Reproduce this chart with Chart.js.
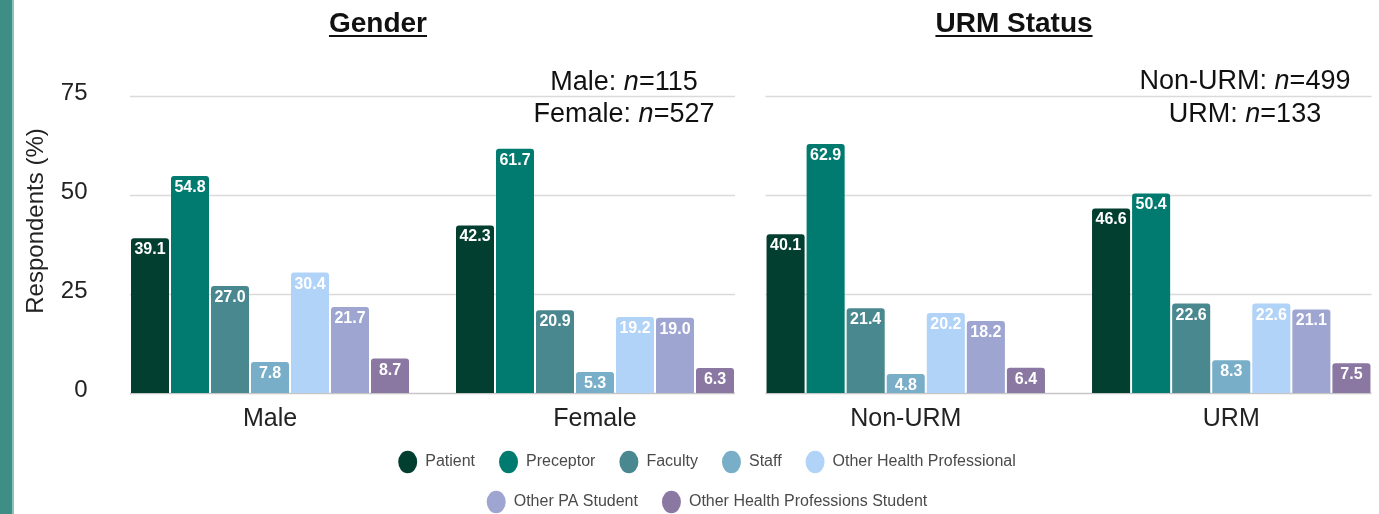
<!DOCTYPE html>
<html>
<head>
<meta charset="utf-8">
<script src="https://cdn.jsdelivr.net/npm/chart.js@4.4.1/dist/chart.umd.min.js"></script>
<style>
  html, body { margin: 0; padding: 0; background: #fff; width: 1379px; height: 514px; overflow: hidden; position: relative; font-family: "Liberation Sans", Arial, sans-serif; }
  .strip { position: absolute; left: 0; top: 0; width: 12px; height: 514px; background: #3f8e85; border-right: 2px solid #8cc3bb; }
  canvas { position: absolute; }
  #gender-chart { left: 0; top: 0; }
  #urm-chart { left: 743px; top: 0; }
  #legend-chart { left: 322px; top: 430px; }
  .title { position: absolute; top: 9px; width: 300px; font-size: 28px; line-height: 28px; font-weight: bold; text-decoration: underline; text-underline-offset: 3px; color: #111; text-align: center; }
  .note { position: absolute; width: 320px; font-size: 27px; line-height: 27px; color: #111; text-align: center; white-space: nowrap; }
  .ytitle { position: absolute; left: -85px; top: 209px; width: 240px; height: 24px; font-size: 24px; line-height: 24px; color: #222; text-align: center; transform: rotate(-90deg); white-space: nowrap; }
</style>
</head>
<body>
<div class="strip"></div>
<canvas id="gender-chart" width="780" height="440"></canvas>
<canvas id="urm-chart" width="660" height="440"></canvas>
<canvas id="legend-chart" width="770" height="84"></canvas>
<div class="title" style="left:228px">Gender</div>
<div class="title" style="left:864px">URM Status</div>
<div class="note" style="left:464px; top:68px">Male: <i>n</i>=115</div>
<div class="note" style="left:464px; top:100px">Female: <i>n</i>=527</div>
<div class="note" style="left:1085px; top:67px">Non-URM: <i>n</i>=499</div>
<div class="note" style="left:1085px; top:100px">URM: <i>n</i>=133</div>
<div class="ytitle">Respondents (%)</div>
<script>
// categories and series
const genderCategories = ["Male", "Female"];
const urmCategories = ["Non-URM", "URM"];
const seriesNames = ["Patient", "Preceptor", "Faculty", "Staff", "Other Health Professional", "Other PA Student", "Other Health Professions Student"];
const seriesColors = ["#023f30", "#017a6f", "#4a8890", "#78aec8", "#b1d3f7", "#9da5d0", "#8a77a2"];

// values per category, in series order
const maleValues = [39.1, 54.8, 27.0, 7.8, 30.4, 21.7, 8.7];
const femaleValues = [42.3, 61.7, 20.9, 5.3, 19.2, 19.0, 6.3];
const nonUrmValues = [40.1, 62.9, 21.4, 4.8, 20.2, 18.2, 6.4];
const urmValues = [46.6, 50.4, 22.6, 8.3, 22.6, 21.1, 7.5];

const yTicks = [0, 25, 50, 75];

Chart.defaults.font.family = '"Liberation Sans", Arial, sans-serif';
Chart.defaults.devicePixelRatio = 1;

const CAT_PCT = 280 / 325;

function buildDatasets(a, b) {
  return seriesNames.map((name, i) => ({
    label: name,
    data: [a[i], b[i]],
    backgroundColor: seriesColors[i],
    borderWidth: 0,
    borderRadius: 3,
    barPercentage: 0.95,
    categoryPercentage: CAT_PCT
  }));
}

// gridlines only span the bar groups, not the whole chart area
const gridPlugin = {
  id: "groupGrid",
  beforeDatasetsDraw(chart) {
    const { ctx, chartArea, scales } = chart;
    const catW = chartArea.width / chart.data.labels.length;
    const inset = catW * (1 - CAT_PCT) / 2;
    ctx.save();
    scales.y.ticks.forEach(t => {
      const y = Math.round(scales.y.getPixelForValue(t.value)) + 0.5;
      ctx.strokeStyle = t.value === 0 ? "#c6c6c6" : "#dadada";
      ctx.lineWidth = 1.5;
      ctx.beginPath();
      ctx.moveTo(chartArea.left + inset, y);
      ctx.lineTo(chartArea.right - inset, y);
      ctx.stroke();
    });
    ctx.restore();
  }
};

// white value labels at the top inside each bar
const valueLabels = {
  id: "valueLabels",
  afterDatasetsDraw(chart) {
    const { ctx } = chart;
    ctx.save();
    ctx.font = 'bold 16px "Liberation Sans", Arial, sans-serif';
    ctx.fillStyle = "#ffffff";
    ctx.textAlign = "center";
    ctx.textBaseline = "alphabetic";
    chart.data.datasets.forEach((ds, i) => {
      chart.getDatasetMeta(i).data.forEach((bar, j) => {
        ctx.fillText(ds.data[j].toFixed(1), bar.x, bar.y + 16);
      });
    });
    ctx.restore();
  }
};

function makeOptions(showY, padRight) {
  return {
    responsive: false,
    animation: false,
    layout: { padding: { top: 96, right: padRight, left: 0, bottom: 0 } },
    plugins: { legend: { display: false }, tooltip: { enabled: false } },
    scales: {
      x: {
        grid: { display: false, drawTicks: false },
        border: { display: false },
        ticks: { font: { size: 25 }, color: "#222", padding: 11 },
        afterFit(scale) { scale.height = 47; }
      },
      y: {
        display: showY,
        min: yTicks[0],
        max: yTicks[yTicks.length - 1],
        grid: { display: false, drawTicks: false },
        border: { display: false },
        ticks: { stepSize: yTicks[1] - yTicks[0], font: { size: 24 }, color: "#222", padding: 20, labelOffset: -3 },
        afterFit(scale) { scale.width = 107.5; }
      }
    }
  };
}

new Chart(document.getElementById("gender-chart"), {
  type: "bar",
  data: { labels: genderCategories, datasets: buildDatasets(maleValues, femaleValues) },
  options: makeOptions(true, 22.5),
  plugins: [gridPlugin, valueLabels]
});

const urmOpts = makeOptions(false, 9);
urmOpts.scales.y.afterFit = undefined;
new Chart(document.getElementById("urm-chart"), {
  type: "bar",
  data: { labels: urmCategories, datasets: buildDatasets(nonUrmValues, urmValues) },
  options: urmOpts,
  plugins: [gridPlugin, valueLabels]
});

// legend shared by both panels
new Chart(document.getElementById("legend-chart"), {
  type: "bar",
  data: {
    labels: [],
    datasets: seriesNames.map((name, i) => ({ label: name, data: [], backgroundColor: seriesColors[i] }))
  },
  options: {
    responsive: false,
    animation: false,
    scales: { x: { display: false }, y: { display: false } },
    plugins: {
      tooltip: { enabled: false },
      legend: {
        position: "top",
        maxHeight: 84,
        labels: {
          usePointStyle: true,
          pointStyle: "circle",
          pointStyleWidth: 19,
          padding: 24,
          color: "#4a4a4a",
          font: { size: 16 }
        }
      }
    }
  }
});
</script>
</body>
</html>
